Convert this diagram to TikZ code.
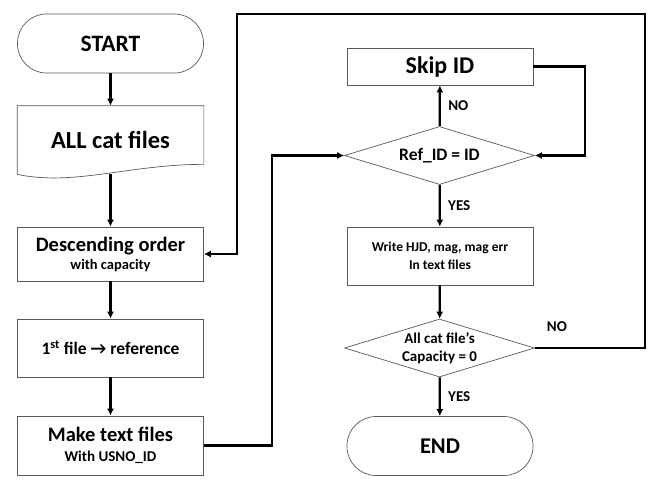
\documentclass[tikz,border=0pt]{standalone}
\usepackage{fontspec}
\setmainfont{Carlito}
\usetikzlibrary{shapes.geometric}
\usetikzlibrary{arrows.meta,calc}

\tikzset{
	box/.style={draw=black!65, line width=0.7pt, rectangle, inner sep=0pt, minimum width=186pt, align=center, font=\bfseries},
	terminal/.style={box, rounded corners=29pt, minimum height=59pt, font=\bfseries\fontsize{23.5}{25}\selectfont},
	decision/.style={draw=black!65, line width=0.7pt, diamond, inner sep=0pt, minimum width=190pt, minimum height=58pt},
	flow/.style={line width=2.3pt, -{Latex[length=7pt,width=7pt]}},
	answer/.style={font=\bfseries\fontsize{15}{17}\selectfont}
}

\begin{document}
\begin{tikzpicture}[x=1pt,y=-1pt]
		\useasboundingbox (0,0) rectangle (655,493);
		
		% left column
		\node[terminal] (start) at (110.5,43.5) {START};
		\node[box, draw=none, minimum height=68pt, font=\bfseries\fontsize{24.5}{26}\selectfont] (allcat) at (110.5,140) {ALL cat files};
		\draw[black!65, line width=0.7pt] (allcat.north west) -- (allcat.north east) -- ($(allcat.south east)+(0,-10)$)
		.. controls ($(allcat.south west)+(112,-10)$) and ($(allcat.south west)+(57,12)$) .. (allcat.south west) -- cycle;
		\node[box, minimum height=54pt, font=\bfseries\fontsize{14.5}{18}\selectfont] (order) at (110.5,254) {{\fontsize{20.5}{18}\selectfont Descending order}\\with capacity};
		\node[box, minimum height=58pt, font=\bfseries\fontsize{17.5}{19}\selectfont] (first) at (110.5,348) {1\textsuperscript{st} file \symbol{"2192} reference};
		\node[box, minimum height=59pt, font=\bfseries\fontsize{15}{20}\selectfont] (make) at (110.5,445.5) {{\fontsize{20.5}{20}\selectfont Make text files}\\With USNO\_ID};
		
		% right column
		\node[box, minimum height=37pt, font=\bfseries\fontsize{24}{26}\selectfont] (skip) at (440,66.5) {Skip ID};
		\node[decision, label={[font=\bfseries\fontsize{17.5}{19}\selectfont]center:Ref\_ID = ID}] (cmp) at (439.5,155.5) {};
		\node[box, minimum height=58pt, font=\bfseries\fontsize{13.5}{17.5}\selectfont] (write) at (440,256) {Write HJD, mag, mag err\\In text files};
		\node[decision, label={[font=\bfseries\fontsize{15}{18}\selectfont, align=center]center:All cat file's\\Capacity = 0}] (check) at (439.5,348) {};
		\node[terminal, font=\bfseries\fontsize{22.5}{24}\selectfont] (end) at (440,446) {END};
		
		% connectors
		\draw[flow] (start) -- (allcat);
		\draw[flow] (allcat) -- (order);
		\draw[flow] (order) -- (first);
		\draw[flow] (first) -- (make);
		\draw[flow] (make.east) -- (272,445.5) |- (cmp.west);
		\draw[flow] (cmp) -- (skip) node[answer, midway, right=4pt] {NO};
		\draw[flow] (skip.east) -- (585,66.5) |- (cmp.east);
		\draw[flow] (cmp) -- (write) node[answer, midway, right=4pt] {YES};
		\draw[flow] (write) -- (check);
		\draw[flow] (check) -- (end) node[answer, midway, right=4pt] {YES};
		\draw[flow] (check.east) -| (645,14) -- (237,14) |- (order.east);
		\node[answer] (no) at (557,327) {NO};
		
\end{tikzpicture}
\end{document}
